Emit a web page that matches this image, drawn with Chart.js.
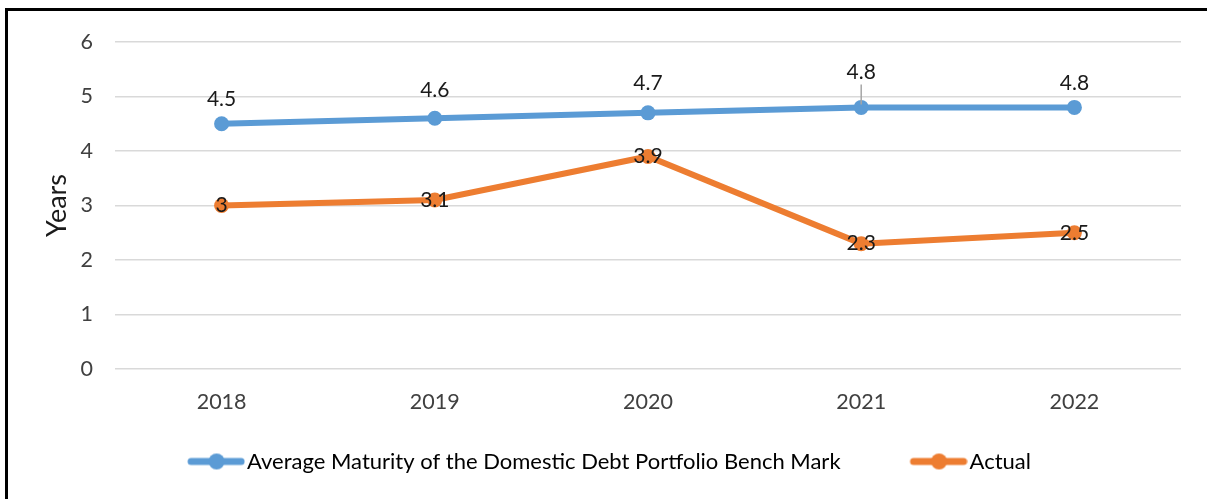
<!DOCTYPE html>
<html>
<head>
<meta charset="utf-8">
<script src="https://cdn.jsdelivr.net/npm/chart.js@4.4.1/dist/chart.umd.min.js"></script>
<style>
  html, body { margin: 0; padding: 0; background: #fff; }
  #wrap { position: relative; width: 1207px; height: 499px; overflow: hidden; }
  #frame { position: absolute; left: 5px; top: 8px; width: 1300px; height: 700px; border: 3px solid #000; }
  #chart { position: absolute; left: 0; top: 0; }
</style>
</head>
<body>
<div id="wrap">
  <div id="frame"></div>
  <canvas id="chart" width="1207" height="499"></canvas>
</div>
<script>
// dados do grafico
const years = ['2018', '2019', '2020', '2021', '2022'];
const benchMark = [4.5, 4.6, 4.7, 4.8, 4.8];
const actual = [3, 3.1, 3.9, 2.3, 2.5];
const yTicks = [0, 1, 2, 3, 4, 5, 6];

const seriesNames = ['Average Maturity of the Domestic Debt Portfolio Bench Mark', 'Actual'];
const blue = '#5B9BD5';
const orange = '#ED7D31';
const FONT = 'Lato';
const BOX = 108;

// icone da legenda: linha com bolinha
function legendIcon(color) {
  const c = document.createElement('canvas');
  c.width = BOX + 18;
  c.height = 20;
  const g = c.getContext('2d');
  g.strokeStyle = color;
  g.lineWidth = 7;
  g.lineCap = 'round';
  g.beginPath();
  g.moveTo(BOX - 36, 10);
  g.lineTo(BOX + 14, 10);
  g.stroke();
  g.fillStyle = color;
  g.beginPath();
  g.arc(BOX - 10.5, 10, 8, 0, Math.PI * 2);
  g.fill();
  return c;
}

// rotulos dos pontos
const pointLabels = {
  id: 'pointLabels',
  afterDatasetsDraw(chart, args, opts) {
    const ctx = chart.ctx;
    ctx.save();
    ctx.font = '21px ' + FONT;
    ctx.fillStyle = '#1a1a1a';
    ctx.textAlign = 'center';
    ctx.textBaseline = 'middle';
    chart.data.datasets.forEach((ds, i) => {
      const meta = chart.getDatasetMeta(i);
      const offs = opts.offsets[i];
      meta.data.forEach((pt, j) => {
        const y = pt.y + offs[j];
        if (opts.leader[i] && opts.leader[i][j]) {
          ctx.strokeStyle = '#a6a6a6';
          ctx.lineWidth = 1.5;
          ctx.beginPath();
          ctx.moveTo(pt.x, y + 12);
          ctx.lineTo(pt.x, pt.y - 3);
          ctx.stroke();
        }
        ctx.fillText(String(ds.data[j]), pt.x, y);
      });
    });
    ctx.restore();
  }
};

// empurra a legenda um pouco para a esquerda
const legendShift = {
  id: 'legendShift',
  afterLayout(chart) {
    if (chart.legend) {
      chart.legend.left -= 11;
      chart.legend.right -= 11;
    }
  }
};

new Chart(document.getElementById('chart').getContext('2d'), {
  type: 'line',
  data: {
    labels: years,
    datasets: [
      {
        label: seriesNames[0],
        data: benchMark,
        borderColor: blue,
        backgroundColor: blue,
        borderWidth: 6,
        pointRadius: 7.5,
        pointBackgroundColor: blue,
        pointBorderWidth: 0,
        tension: 0
      },
      {
        label: seriesNames[1],
        data: actual,
        borderColor: orange,
        backgroundColor: orange,
        borderWidth: 6,
        pointRadius: 7.5,
        pointBackgroundColor: orange,
        pointBorderWidth: 0,
        tension: 0
      }
    ]
  },
  options: {
    responsive: false,
    animation: false,
    layout: { padding: { left: 0, top: 42, right: 26, bottom: 16.5 } },
    scales: {
      x: {
        offset: true,
        grid: { display: false, drawTicks: false },
        border: { display: false },
        ticks: { padding: 20, color: '#404040', font: { family: FONT, size: 21.5 } },
        afterFit(scale) { scale.height = 71.5; }
      },
      y: {
        min: yTicks[0],
        max: yTicks[yTicks.length - 1],
        ticks: { stepSize: 1, padding: 22, color: '#404040', font: { family: FONT, size: 21.5 } },
        grid: { color: '#d9d9d9', lineWidth: 1.5, drawTicks: false },
        border: { display: false },
        title: {
          display: true,
          text: 'Years',
          color: '#1a1a1a',
          font: { family: FONT, size: 27 },
          padding: { top: 41 }
        },
        afterFit(scale) { scale.width = 115; }
      }
    },
    plugins: {
      legend: {
        position: 'bottom',
        labels: {
          usePointStyle: true,
          pointStyleWidth: BOX,
          padding: 10,
          color: '#1a1a1a',
          font: { family: FONT, size: 22 },
          generateLabels(chart) {
            return chart.data.datasets.map((ds, i) => ({
              text: ds.label,
              fillStyle: ds.borderColor,
              strokeStyle: ds.borderColor,
              lineWidth: 0,
              pointStyle: legendIcon(ds.borderColor),
              hidden: false,
              datasetIndex: i
            }));
          }
        }
      },
      tooltip: { enabled: false },
      pointLabels: {
        offsets: [[-25, -28, -30, -35, -24], [0, 0, 0, 0, 0]],
        leader: [[false, false, false, true, false], []]
      }
    }
  },
  plugins: [pointLabels, legendShift]
});
</script>
</body>
</html>
